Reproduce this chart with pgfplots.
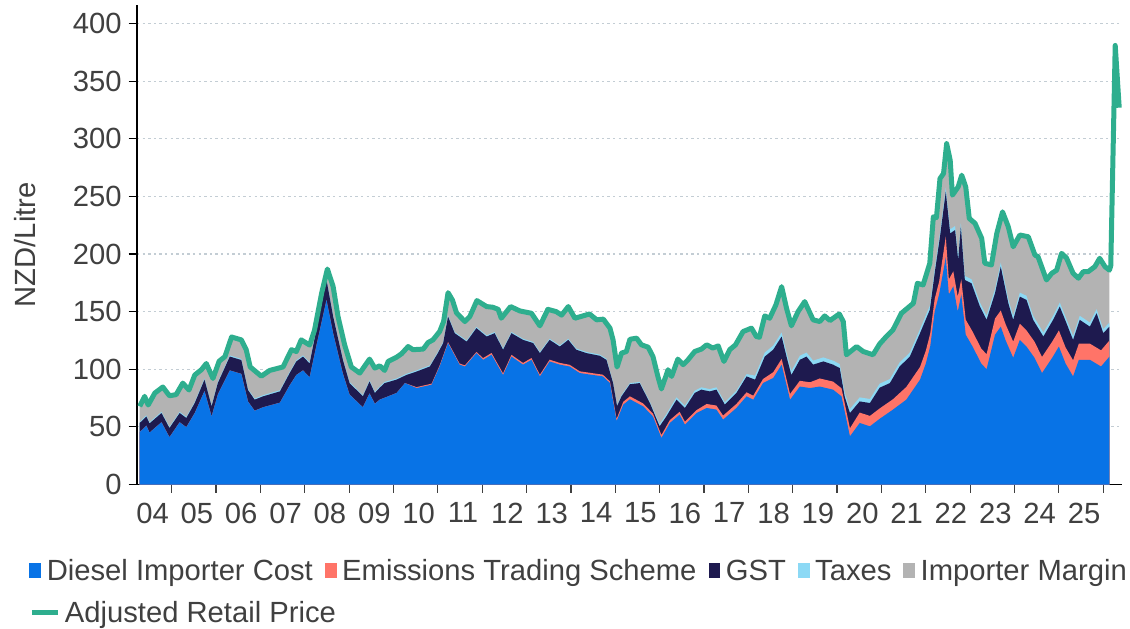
\documentclass[border=0pt]{standalone}
\usepackage{fontspec}
\setmainfont{Liberation Sans}
\setsansfont{Liberation Sans}
\usepackage{pgfplots}
\pgfplotsset{compat=1.18}

\definecolor{cblue}{HTML}{0873E6}
\definecolor{cets}{HTML}{FF7468}
\definecolor{cgst}{HTML}{1E1A4F}
\definecolor{ctax}{HTML}{8CD9F5}
\definecolor{cgrey}{HTML}{B3B3B3}
\definecolor{cgreen}{HTML}{2EAE8E}
\definecolor{textc}{HTML}{404040}
\definecolor{gridc}{HTML}{C3CDD4}

\newcommand{\chartfont}{\fontsize{14.6}{17}\selectfont}

\begin{document}
\begin{tikzpicture}
\useasboundingbox (-68.5pt,-71.75pt) rectangle (496.5pt,242.25pt);
\begin{axis}[
  at={(0pt,0pt)}, anchor=south west,
  scale only axis, width=492.5pt, height=239.7pt,
  xmin=2004.218, xmax=2026.423, ymin=0, ymax=416,
  axis x line*=bottom, axis y line*=left,
  axis line style={black, line width=0.6pt},
  tick align=outside, major tick length=4.2pt, minor tick length=4pt,
  xtick={2004.5,2005.5,...,2025.5},
  xticklabels={04,05,06,07,08,09,10,11,12,13,14,15,16,17,18,19,20,21,22,23,24,25},
  minor xtick={2005,2006,...,2026},
  major x tick style={draw=none},
  minor x tick style={textc, line width=0.6pt},
  ytick={0,50,...,400},
  major y tick style={black, line width=0.6pt},
  ymajorgrids,
  major grid style={gridc, line width=0.6pt, dash pattern=on 1.2pt off 1.6pt},
  tick label style={font=\chartfont, text=textc},
  xticklabel style={yshift=-1.4pt, xshift=1.5pt},
  /pgf/number format/assume math mode=true,
  ylabel={NZD/Litre},
  ylabel style={font=\chartfont, text=textc, at={(axis description cs:-0.1137,0.5)}, anchor=center},
  legend columns=5, legend cell align=left,
  legend style={at={(axis description cs:0,0)}, anchor=west, xshift=-53.75pt, yshift=-44.15pt,
    draw=none, fill=none, inner sep=0pt, outer sep=0pt, font=\chartfont, text=textc,
    nodes={inner sep=0pt, text height=10.7pt, text depth=3.1pt},
    /tikz/every odd column/.style={column sep=2.85pt},
    /tikz/every even column/.style={column sep=6pt}},
]
\addlegendimage{legend image code/.code={\fill[cblue] (0pt,-2.1pt) rectangle (5.4pt,4.9pt);}}
\addlegendentry{Diesel Importer Cost}
\addlegendimage{legend image code/.code={\fill[cets] (0pt,-2.1pt) rectangle (5.4pt,4.9pt);}}
\addlegendentry{Emissions Trading Scheme}
\addlegendimage{legend image code/.code={\fill[cgst] (0pt,-2.1pt) rectangle (5.4pt,4.9pt);}}
\addlegendentry{GST}
\addlegendimage{legend image code/.code={\fill[ctax] (0pt,-2.1pt) rectangle (5.4pt,4.9pt);}}
\addlegendentry{Taxes}
\addlegendimage{legend image code/.code={\fill[cgrey] (0pt,-2.1pt) rectangle (5.4pt,4.9pt);}}
\addlegendentry{Importer Margin}

% Importer margin: top of stack (= retail price)
\addplot[fill=cgrey, draw=none, forget plot] coordinates {
(2004.28,67.8) (2004.39,76.5) (2004.47,69) (2004.62,79.4) (2004.80,84.6) (2004.95,77)
(2005.10,78) (2005.25,88) (2005.39,82) (2005.52,95) (2005.67,99.6) (2005.78,105) (2005.93,92)
(2006.07,107) (2006.20,111) (2006.35,128) (2006.57,125.5) (2006.68,117) (2006.77,102)
(2007.02,94) (2007.21,99) (2007.51,102) (2007.70,117) (2007.81,115.4) (2007.92,125.5)
(2008.11,121) (2008.22,134) (2008.38,166) (2008.51,187) (2008.64,171.7) (2008.75,145.7) (2008.90,121)
(2009.05,102) (2009.24,96.7) (2009.46,108.8) (2009.58,101) (2009.69,103) (2009.80,99) (2009.88,106.8)
(2010.07,110.5) (2010.18,113.4) (2010.33,119.7) (2010.44,117) (2010.67,117.5) (2010.78,123.2) (2010.89,125.5)
(2011.04,132.7) (2011.13,141.4) (2011.23,166.5) (2011.33,160) (2011.42,149) (2011.61,141.4) (2011.72,145.7) (2011.88,159.6)
(2012.10,154.4) (2012.24,153.8) (2012.36,152) (2012.43,144.3) (2012.64,154.4) (2012.85,150.6)
(2013.11,148.6) (2013.30,137.7) (2013.48,152) (2013.67,150) (2013.79,147) (2013.94,154.4)
(2014.09,144.3) (2014.27,146.3) (2014.42,148) (2014.58,142.9) (2014.73,143.5) (2014.88,135.7) (2014.95,125.5)
(2015.04,101.9) (2015.14,114) (2015.25,115.4) (2015.33,126) (2015.48,127) (2015.59,121.2) (2015.74,119.2) (2015.85,111) (2015.96,93.8)
(2016.04,82.9) (2016.19,99.6) (2016.27,93.8) (2016.41,108.8) (2016.53,104) (2016.64,108.2) (2016.79,115.4) (2016.94,117.5)
(2017.06,121.2) (2017.20,118.4) (2017.32,120.3) (2017.45,106.8) (2017.58,117) (2017.71,121.2) (2017.88,132.7)
(2018.07,135.7) (2018.18,128.4) (2018.25,127.8) (2018.37,146.3) (2018.48,144.3) (2018.62,155.8) (2018.75,171.7) (2018.86,153) (2018.97,137.7)
(2019.12,150) (2019.27,158.7) (2019.46,142.9) (2019.61,141.4) (2019.72,146.3) (2019.84,142.3)
(2020.05,148) (2020.14,141.4) (2020.21,112.6) (2020.44,119.7) (2020.59,115.4) (2020.81,112.6) (2020.96,122)
(2021.11,128.4) (2021.26,134.2) (2021.45,148.6) (2021.72,157.3) (2021.81,174.6) (2021.94,173.2)
(2022.09,192) (2022.17,232.3) (2022.24,231.6) (2022.32,265.5) (2022.40,269.9) (2022.47,295.8) (2022.55,281.4) (2022.60,251.1) (2022.73,258.3) (2022.81,268.4) (2022.90,258.3) (2022.98,230.9)
(2023.11,226.6) (2023.26,213.6) (2023.33,192) (2023.48,190.5) (2023.60,217.9) (2023.73,236.6) (2023.86,223.6) (2023.97,206.3)
(2024.12,216.5) (2024.31,215) (2024.46,199.1) (2024.53,197.7) (2024.72,177.5) (2024.84,183.3) (2024.95,186)
(2025.06,200.6) (2025.17,196.7) (2025.32,183.3) (2025.44,179) (2025.55,184.7) (2025.66,184.7) (2025.81,189) (2025.92,196.3)
(2026.04,189) (2026.14,186)
} \closedcycle;

% Taxes: top of taxes band
\addplot[fill=ctax, draw=none, forget plot] coordinates {
(2004.28,54.4) (2004.43,60) (2004.50,54) (2004.77,63) (2004.95,50) (2005.18,63) (2005.33,58.7) (2005.52,71.7)
(2005.74,92) (2005.90,68.8) (2006.04,89) (2006.31,112) (2006.57,109) (2006.72,83) (2006.87,74.6)
(2007.06,77.5) (2007.44,81.8) (2007.66,97.7) (2007.81,107.8) (2007.96,112) (2008.11,106) (2008.26,135)
(2008.49,178.5) (2008.64,146.7) (2008.86,109) (2009.01,89) (2009.31,77.5) (2009.46,90.4) (2009.58,80.4)
(2009.69,85) (2009.80,89) (2010.07,92) (2010.29,96) (2010.52,99) (2010.82,103.4) (2011.00,115) (2011.12,123.7)
(2011.23,146.7) (2011.38,132.3) (2011.65,125) (2011.87,136.7) (2012.10,129.4) (2012.28,132.3) (2012.47,118)
(2012.66,132.3) (2012.92,126.5) (2013.15,123.7) (2013.30,115) (2013.52,126.5) (2013.75,120.7) (2013.94,126.5)
(2014.12,118) (2014.35,115) (2014.65,112.7) (2014.80,109.2) (2014.95,89) (2015.04,69) (2015.14,77.5) (2015.33,88)
(2015.55,89) (2015.78,71.7) (2016.00,52.5) (2016.15,61) (2016.38,75.6) (2016.57,68.4) (2016.79,81.4) (2016.94,84.3)
(2017.13,82.8) (2017.28,84.3) (2017.47,71.3) (2017.73,81.4) (2017.96,95.8) (2018.15,94.5) (2018.37,114.5)
(2018.56,120.5) (2018.75,131.9) (2018.86,114.5) (2018.97,98.5) (2019.16,111.7) (2019.31,114.5) (2019.46,107.5)
(2019.69,110.3) (2019.91,107.5) (2020.06,104.5) (2020.17,80) (2020.29,65.5) (2020.51,75.6) (2020.74,74.2)
(2020.96,87.5) (2021.19,91.5) (2021.41,105.9) (2021.64,114.5) (2021.87,134.8) (2022.09,155) (2022.21,189.6)
(2022.32,218.5) (2022.45,257.5) (2022.55,221.4) (2022.66,224.3) (2022.73,198.3) (2022.79,227.1) (2022.88,181)
(2023.03,178.1) (2023.22,157.9) (2023.37,146.4) (2023.56,169.5) (2023.69,192.5) (2023.86,160.8) (2023.97,146.4)
(2024.12,166.5) (2024.27,163.7) (2024.42,146.4) (2024.65,131.9) (2024.87,146.4) (2025.02,157.9) (2025.17,143.5)
(2025.32,129) (2025.47,146.4) (2025.70,140.5) (2025.85,152.1) (2026.00,134.8) (2026.14,140.5)
} \closedcycle;

% GST: top of GST band
\addplot[fill=cgst, draw=none, forget plot] coordinates {
(2004.28,53.4) (2004.43,59) (2004.50,53) (2004.77,62) (2004.95,49) (2005.18,62) (2005.33,57.7) (2005.52,70.7)
(2005.74,91) (2005.90,67.8) (2006.04,88) (2006.31,111) (2006.57,108) (2006.72,82) (2006.87,73.6)
(2007.06,76.5) (2007.44,80.8) (2007.66,96.7) (2007.81,106.8) (2007.96,111) (2008.11,105) (2008.26,134)
(2008.49,177.5) (2008.64,145.7) (2008.86,108) (2009.01,88) (2009.31,76.5) (2009.46,89.4) (2009.58,79.4)
(2009.69,84) (2009.80,88) (2010.07,91) (2010.29,95) (2010.52,98) (2010.82,102.4) (2011.00,114) (2011.12,122.7)
(2011.23,145.7) (2011.38,131.3) (2011.65,124) (2011.87,135.7) (2012.10,128.4) (2012.28,131.3) (2012.47,117)
(2012.66,131.3) (2012.92,125.5) (2013.15,122.7) (2013.30,114) (2013.52,125.5) (2013.75,119.7) (2013.94,125.5)
(2014.12,117) (2014.35,114) (2014.65,111.7) (2014.80,108.2) (2014.95,88) (2015.04,68) (2015.14,76.5) (2015.33,87)
(2015.55,88) (2015.78,70.7) (2016.00,50.5) (2016.15,59) (2016.38,73.6) (2016.57,66.4) (2016.79,79.4) (2016.94,82.3)
(2017.13,80.8) (2017.28,82.3) (2017.47,69.3) (2017.73,79.4) (2017.96,93.8) (2018.15,91) (2018.37,111)
(2018.56,117) (2018.75,128.4) (2018.86,111) (2018.97,95) (2019.16,108.2) (2019.31,111) (2019.46,104)
(2019.69,106.8) (2019.91,104) (2020.06,101) (2020.17,76.5) (2020.29,62) (2020.51,72.1) (2020.74,70.7)
(2020.96,84) (2021.19,88) (2021.41,102.4) (2021.64,111) (2021.87,131.3) (2022.09,151.5) (2022.21,186.1)
(2022.32,215) (2022.45,254) (2022.55,217.9) (2022.66,220.8) (2022.73,194.8) (2022.79,223.6) (2022.88,177.5)
(2023.03,174.6) (2023.22,154.4) (2023.37,142.9) (2023.56,166) (2023.69,189) (2023.86,157.3) (2023.97,142.9)
(2024.12,163) (2024.27,160.2) (2024.42,142.9) (2024.65,128.4) (2024.87,142.9) (2025.02,154.4) (2025.17,140)
(2025.32,125.5) (2025.47,142.9) (2025.70,137) (2025.85,148.6) (2026.00,131.3) (2026.14,137)
} \closedcycle;

% Emissions Trading Scheme: top of ETS band
\addplot[fill=cets, draw=none, forget plot] coordinates {
(2004.28,45.4) (2004.43,51) (2004.50,45) (2004.77,54) (2004.95,41) (2005.18,54) (2005.33,49.7) (2005.52,62)
(2005.74,81) (2005.90,59) (2006.04,78) (2006.31,99) (2006.57,96) (2006.72,72) (2006.87,64) (2007.06,67)
(2007.44,71) (2007.66,86) (2007.81,95) (2007.96,99) (2008.11,93) (2008.26,120) (2008.49,160) (2008.64,131)
(2008.86,96) (2009.01,78) (2009.31,67) (2009.46,79) (2009.58,70) (2009.69,73.6) (2010.07,79.4) (2010.26,88)
(2010.52,84.5) (2010.86,87.5) (2011.04,103.3) (2011.23,123.6) (2011.49,105) (2011.61,103.4) (2011.87,115)
(2012.02,109.7) (2012.21,114.1) (2012.47,96.5) (2012.66,112.5) (2012.92,105.5) (2013.11,109.7) (2013.30,95.3)
(2013.52,108.3) (2013.75,105.5) (2013.97,103.9) (2014.20,98.2) (2014.72,95.3) (2014.88,89.5) (2015.03,57)
(2015.18,71.8) (2015.33,76.5) (2015.63,70.3) (2015.85,61.5) (2016.04,42.9) (2016.23,55.9) (2016.45,63.1)
(2016.57,54.5) (2016.83,64.5) (2017.06,69.9) (2017.28,68.5) (2017.43,59.8) (2017.73,69.9) (2017.96,80)
(2018.11,77.1) (2018.33,91.5) (2018.56,97.4) (2018.75,109) (2018.94,78.6) (2019.16,90) (2019.39,88.7)
(2019.61,92) (2019.91,89.3) (2020.10,83.5) (2020.29,48.8) (2020.51,62.4) (2020.74,59.5) (2020.96,66)
(2021.26,74) (2021.56,84.6) (2021.87,102) (2022.00,116) (2022.10,131) (2022.20,161) (2022.30,176)
(2022.45,215) (2022.52,178) (2022.62,185) (2022.72,163) (2022.80,178) (2022.90,143) (2023.05,133)
(2023.25,118) (2023.37,113) (2023.56,144) (2023.69,151) (2023.80,139) (2023.97,124) (2024.12,139.5)
(2024.27,133.7) (2024.45,124) (2024.62,110.7) (2024.85,124) (2025.00,133.7) (2025.15,119) (2025.32,107.8)
(2025.45,122.2) (2025.70,122.2) (2025.95,116.4) (2026.14,125)
} \closedcycle;

% Diesel importer cost
\addplot[fill=cblue, draw=none, forget plot] coordinates {
(2004.28,45.4) (2004.43,51) (2004.50,45) (2004.77,54) (2004.95,41) (2005.18,54) (2005.33,49.7) (2005.52,62)
(2005.74,81) (2005.90,59) (2006.04,78) (2006.31,99) (2006.57,96) (2006.72,72) (2006.87,64) (2007.06,67)
(2007.44,71) (2007.66,86) (2007.81,95) (2007.96,99) (2008.11,93) (2008.26,120) (2008.49,160) (2008.64,131)
(2008.86,96) (2009.01,78) (2009.31,67) (2009.46,79) (2009.58,70) (2009.69,73.6) (2010.07,79.4) (2010.26,88)
(2010.52,83.7) (2010.86,86.6) (2011.04,102.4) (2011.23,122.7) (2011.49,104) (2011.61,102.4) (2011.87,114)
(2012.02,108.2) (2012.21,112.6) (2012.47,95) (2012.66,111) (2012.92,104) (2013.11,108.2) (2013.30,93.8)
(2013.52,106.8) (2013.75,104) (2013.97,102.4) (2014.20,96.7) (2014.72,93.8) (2014.88,88) (2015.03,55)
(2015.18,69.3) (2015.33,74) (2015.63,67.8) (2015.85,59) (2016.04,40.4) (2016.23,53.4) (2016.45,60.6)
(2016.57,52) (2016.83,62) (2017.06,66.4) (2017.28,65) (2017.43,56.3) (2017.73,66.4) (2017.96,76.5)
(2018.11,73.6) (2018.33,88) (2018.56,92.4) (2018.75,104) (2018.94,73.6) (2019.16,85) (2019.39,83.7)
(2019.61,85) (2019.91,82.3) (2020.10,76.5) (2020.29,41.8) (2020.51,53.4) (2020.74,50.5) (2020.96,57)
(2021.26,65) (2021.56,73.6) (2021.87,91) (2022.00,105) (2022.10,120) (2022.20,150) (2022.30,165)
(2022.45,197) (2022.52,165) (2022.62,172) (2022.72,150) (2022.80,165) (2022.90,130) (2023.05,120)
(2023.25,105) (2023.37,100) (2023.56,130) (2023.69,137) (2023.80,125) (2023.97,110) (2024.12,125.5)
(2024.27,119.7) (2024.45,110) (2024.62,96.7) (2024.85,110) (2025.00,119.7) (2025.15,105) (2025.32,93.8)
(2025.45,108.2) (2025.70,108.2) (2025.95,102.4) (2026.14,111)
} \closedcycle;

% Adjusted retail price
\addplot[cgreen, line width=2.5pt, line join=round, forget plot] coordinates {
(2004.28,67.8) (2004.39,76.5) (2004.47,69) (2004.62,79.4) (2004.80,84.6) (2004.95,77)
(2005.10,78) (2005.25,88) (2005.39,82) (2005.52,95) (2005.67,99.6) (2005.78,105) (2005.93,92)
(2006.07,107) (2006.20,111) (2006.35,128) (2006.57,125.5) (2006.68,117) (2006.77,102)
(2007.02,94) (2007.21,99) (2007.51,102) (2007.70,117) (2007.81,115.4) (2007.92,125.5)
(2008.11,121) (2008.22,134) (2008.38,166) (2008.51,187) (2008.64,171.7) (2008.75,145.7) (2008.90,121)
(2009.05,102) (2009.24,96.7) (2009.46,108.8) (2009.58,101) (2009.69,103) (2009.80,99) (2009.88,106.8)
(2010.07,110.5) (2010.18,113.4) (2010.33,119.7) (2010.44,117) (2010.67,117.5) (2010.78,123.2) (2010.89,125.5)
(2011.04,132.7) (2011.13,141.4) (2011.23,166.5) (2011.33,160) (2011.42,149) (2011.61,141.4) (2011.72,145.7) (2011.88,159.6)
(2012.10,154.4) (2012.24,153.8) (2012.36,152) (2012.43,144.3) (2012.64,154.4) (2012.85,150.6)
(2013.11,148.6) (2013.30,137.7) (2013.48,152) (2013.67,150) (2013.79,147) (2013.94,154.4)
(2014.09,144.3) (2014.27,146.3) (2014.42,148) (2014.58,142.9) (2014.73,143.5) (2014.88,135.7) (2014.95,125.5)
(2015.04,101.9) (2015.14,114) (2015.25,115.4) (2015.33,126) (2015.48,127) (2015.59,121.2) (2015.74,119.2) (2015.85,111) (2015.96,93.8)
(2016.04,82.9) (2016.19,99.6) (2016.27,93.8) (2016.41,108.8) (2016.53,104) (2016.64,108.2) (2016.79,115.4) (2016.94,117.5)
(2017.06,121.2) (2017.20,118.4) (2017.32,120.3) (2017.45,106.8) (2017.58,117) (2017.71,121.2) (2017.88,132.7)
(2018.07,135.7) (2018.18,128.4) (2018.25,127.8) (2018.37,146.3) (2018.48,144.3) (2018.62,155.8) (2018.75,171.7) (2018.86,153) (2018.97,137.7)
(2019.12,150) (2019.27,158.7) (2019.46,142.9) (2019.61,141.4) (2019.72,146.3) (2019.84,142.3)
(2020.05,148) (2020.14,141.4) (2020.21,112.6) (2020.44,119.7) (2020.59,115.4) (2020.81,112.6) (2020.96,122)
(2021.11,128.4) (2021.26,134.2) (2021.45,148.6) (2021.72,157.3) (2021.81,174.6) (2021.94,173.2)
(2022.09,192) (2022.17,232.3) (2022.24,231.6) (2022.32,265.5) (2022.40,269.9) (2022.47,295.8) (2022.55,281.4) (2022.60,251.1) (2022.73,258.3) (2022.81,268.4) (2022.90,258.3) (2022.98,230.9)
(2023.11,226.6) (2023.26,213.6) (2023.33,192) (2023.48,190.5) (2023.60,217.9) (2023.73,236.6) (2023.86,223.6) (2023.97,206.3)
(2024.12,216.5) (2024.31,215) (2024.46,199.1) (2024.53,197.7) (2024.72,177.5) (2024.84,183.3) (2024.95,186)
(2025.06,200.6) (2025.17,196.7) (2025.32,183.3) (2025.44,179) (2025.55,184.7) (2025.66,184.7) (2025.81,189) (2025.92,196.3)
(2026.04,189) (2026.14,186) (2026.17,190) (2026.27,381) (2026.36,327)
};
\end{axis}

% second legend row
\begin{axis}[
  at={(0pt,0pt)}, anchor=south west,
  scale only axis, width=492.5pt, height=239.7pt,
  xmin=0, xmax=1, ymin=0, ymax=1, hide axis,
  legend style={at={(axis description cs:0,0)}, anchor=west, xshift=-53.75pt, yshift=-65.15pt,
    draw=none, fill=none, inner sep=0pt, outer sep=0pt, font=\chartfont, text=textc,
    nodes={inner sep=0pt, text height=10.7pt, text depth=3.1pt},
    /tikz/every odd column/.style={column sep=2.2pt}},
]
\addlegendimage{legend image code/.code={\draw[cgreen, line width=2.5pt] (0pt,1.4pt) -- (13pt,1.4pt);}}
\addlegendentry{Adjusted Retail Price}
\end{axis}
\end{tikzpicture}
\end{document}
